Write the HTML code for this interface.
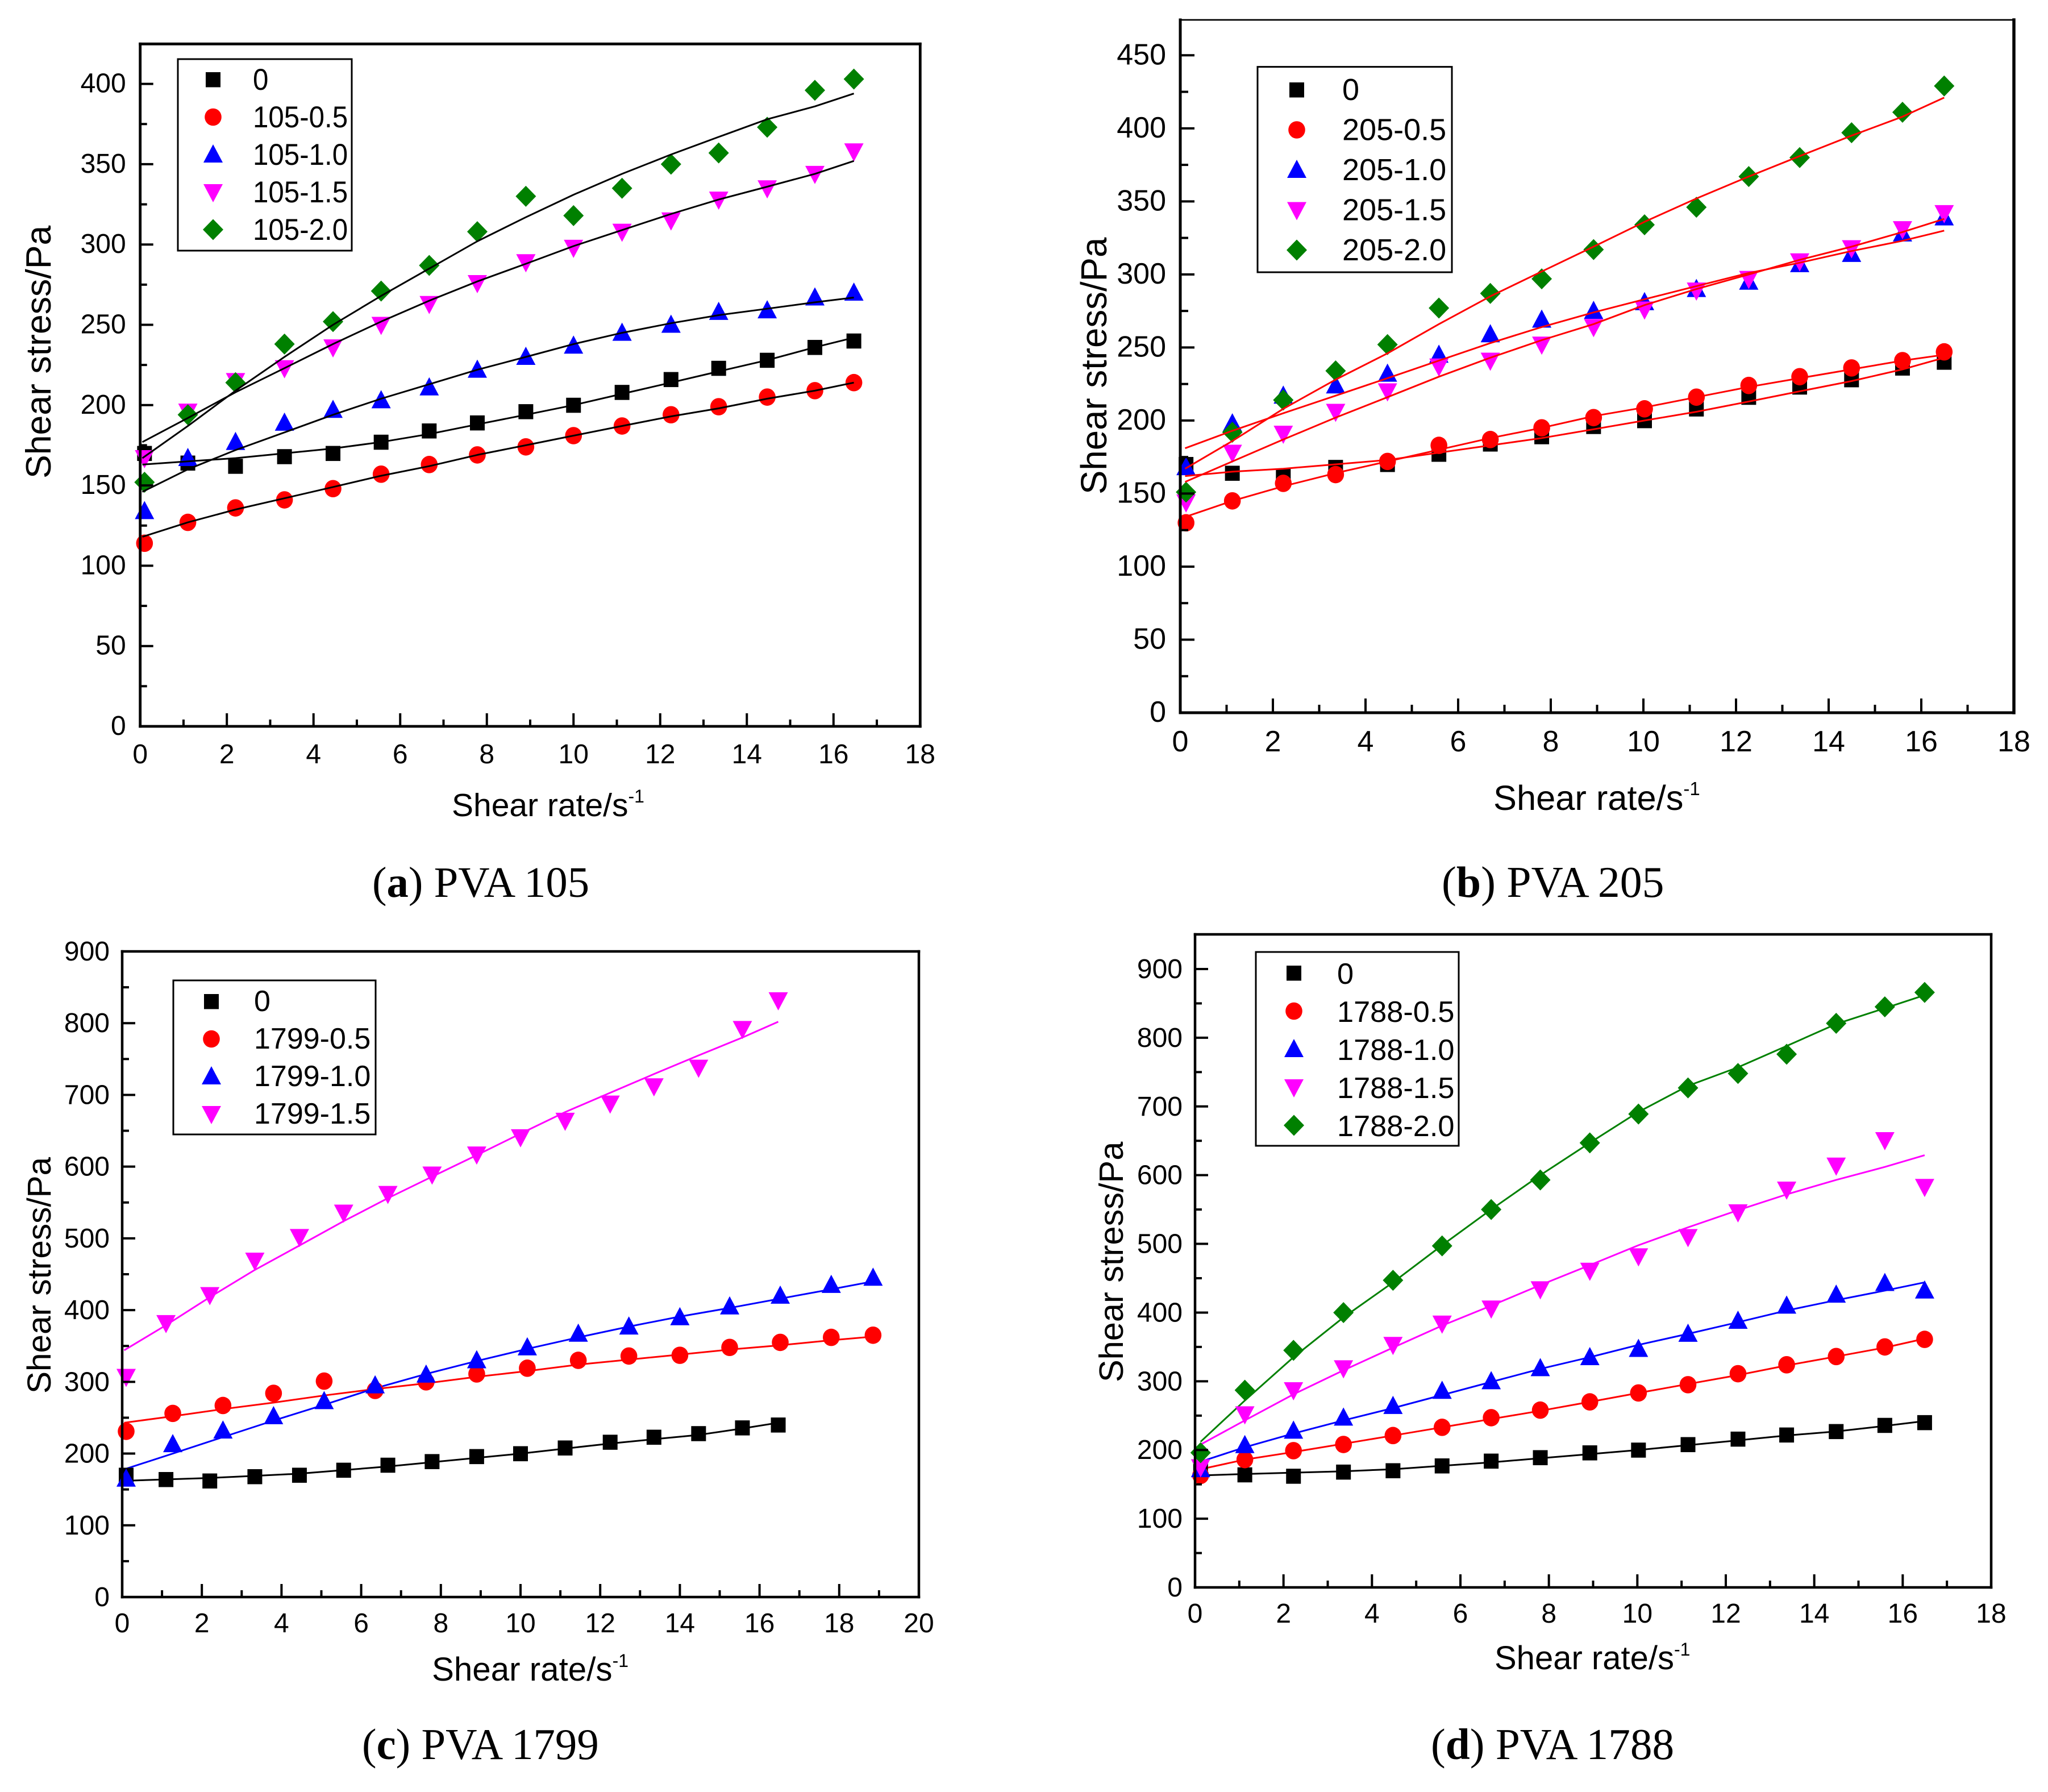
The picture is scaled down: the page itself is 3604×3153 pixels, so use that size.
<!DOCTYPE html>
<html lang="en">
<head>
<meta charset="utf-8">
<title>Shear stress vs shear rate for PVA solutions</title>
<style>
html,body{margin:0;padding:0;background:#fff;}
svg{display:block;position:absolute;left:0;top:0;}
.sans{font-family:"Liberation Sans",Arial,sans-serif;fill:#000;}
.serif{font-family:"Liberation Serif","Times New Roman",serif;fill:#000;}
</style>
</head>
<body>
<svg id="fig" xmlns="http://www.w3.org/2000/svg" width="3604" height="3153" viewBox="0 0 3604 3153">
  <rect width="3604" height="3153" fill="#fff"/>

  <g id="chart-a"></g>
  <g id="chart-b"></g>
  <g id="chart-c"></g>
  <g id="chart-d"></g>

  <text class="sans" font-size="62.6" transform="translate(89,842) rotate(-90)">Shear stress/Pa</text>
  <text class="sans" x="795" y="1436" font-size="57">Shear rate/s<tspan font-size="32" dy="-24">-1</tspan></text>
  <text class="serif" x="655" y="1578" font-size="76.7">(<tspan font-weight="bold">a</tspan>) PVA 105</text>

  <text class="sans" font-size="63.6" transform="translate(1947,870) rotate(-90)">Shear stress/Pa</text>
  <text class="sans" x="2628" y="1425" font-size="61.4">Shear rate/s<tspan font-size="33" dy="-26">-1</tspan></text>
  <text class="serif" x="2537" y="1578" font-size="77.7">(<tspan font-weight="bold">b</tspan>) PVA 205</text>

  <text class="sans" font-size="58.5" transform="translate(89,2452) rotate(-90)">Shear stress/Pa</text>
  <text class="sans" x="760" y="2957" font-size="58.3">Shear rate/s<tspan font-size="32" dy="-24">-1</tspan></text>
  <text class="serif" x="637" y="3095" font-size="76.8">(<tspan font-weight="bold">c</tspan>) PVA 1799</text>

  <text class="sans" font-size="59.5" transform="translate(1976,2432) rotate(-90)">Shear stress/Pa</text>
  <text class="sans" x="2630" y="2937" font-size="58">Shear rate/s<tspan font-size="32" dy="-24">-1</tspan></text>
  <text class="serif" x="2518" y="3095" font-size="77.3">(<tspan font-weight="bold">d</tspan>) PVA 1788</text>
</svg>
<script>
/* ---------- shared x values (shear rate, 1/s) ---------- */
var shearRates = [0.1,1.1,2.2,3.33,4.45,5.56,6.67,7.78,8.9,10,11.12,12.25,13.35,14.47,15.57,16.47];
var shearRatesLong = [0.1,1.27,2.53,3.8,5.07,6.35,7.63,8.9,10.17,11.45,12.72,14,15.25,16.52,17.8,18.85];

/* ---------- tick labels ---------- */
var xTicks18 = [0,2,4,6,8,10,12,14,16,18];
var xTicks20 = [0,2,4,6,8,10,12,14,16,18,20];
var yTicksA = [0,50,100,150,200,250,300,350,400];
var yTicksB = [0,50,100,150,200,250,300,350,400,450];
var yTicksC = [0,100,200,300,400,500,600,700,800,900];
var yTicksD = [0,100,200,300,400,500,600,700,800,900];

/* ---------- legend names ---------- */
var namesA = ["0","105-0.5","105-1.0","105-1.5","105-2.0"];
var namesB = ["0","205-0.5","205-1.0","205-1.5","205-2.0"];
var namesC = ["0","1799-0.5","1799-1.0","1799-1.5"];
var namesD = ["0","1788-0.5","1788-1.0","1788-1.5","1788-2.0"];

/* ---------- chart (a) PVA 105: measured points ---------- */
var a0   = [170,164,162,168,170,177,184,189,196,200,208,216,223,228,236,240];
var a05  = [114,127,136,141,148,157,163,169,174,181,187,194,199,205,209,214];
var a10  = [134,167,177,189,197,203,211,222,230,237,245,250,258,259,267,270];
var a15  = [167,196,215,223,236,250,263,276,289,298,308,315,328,335,344,358];
var a20  = [152,194,214,238,252,271,287,308,330,318,335,350,357,373,396,403];
/* chart (a): fitted curves */
var aFit0  = [163,165,167,170,173,177,182,188,194,200,207,214,221,228,236,242];
var aFit05 = [118,127,135,142,149,156,162,169,175,181,187,193,198,204,209,214];
var aFit10 = [146,160,172,183,194,204,213,222,230,238,245,251,256,260,264,267];
var aFit15 = [177,192,208,223,238,252,265,277,288,299,309,319,328,336,344,352];
var aFit20 = [167,187,209,230,250,268,285,302,317,331,344,356,367,378,386,394];

/* ---------- chart (b) PVA 205: measured points ---------- */
var b0   = [170,164,162,168,170,177,184,189,196,200,208,216,223,228,236,240];
var b05  = [130,145,157,163,172,183,187,195,202,208,216,224,230,236,241,247];
var b10  = [168,198,217,224,232,245,259,269,275,281,290,295,307,314,328,339];
var b15  = [144,178,191,206,220,237,241,252,264,276,289,297,309,318,331,342];
var b20  = [151,192,214,234,252,277,287,297,317,334,346,367,380,397,411,429];
/* chart (b): fitted curves */
var bFit0  = [162,165,167,170,173,178,183,188,194,200,206,213,220,227,235,243];
var bFit05 = [134,145,155,164,172,180,188,195,203,209,216,223,229,235,241,245];
var bFit10 = [181,193,205,217,229,241,253,264,274,283,292,301,308,316,323,330];
var bFit15 = [158,172,187,202,216,230,243,255,266,279,290,300,310,319,329,338];
var bFit20 = [167,186,208,228,246,266,285,302,319,336,352,367,381,395,408,421];

/* ---------- chart (c) PVA 1799: measured points ---------- */
var c0   = [170,164,162,168,170,177,184,189,196,200,208,216,223,228,236,240];
var c05  = [231,256,267,284,301,288,300,311,319,330,336,337,348,355,362,365];
var c10  = [165,213,232,252,273,295,310,330,348,367,377,390,405,420,435,445];
var c15  = [307,382,421,469,502,536,562,589,617,641,664,688,712,738,792,832];
/* chart (c): fitted curves */
var cFit0  = [162,164,166,169,172,177,182,188,194,200,207,214,220,226,235,243];
var cFit05 = [243,252,262,271,281,290,298,307,315,324,331,338,345,351,358,363];
var cFit10 = [178,200,223,246,268,291,311,329,346,362,377,391,403,416,429,440];
var cFit15 = [344,379,418,456,490,524,556,586,616,646,676,703,729,755,780,802];

/* ---------- chart (d) PVA 1788: measured points ---------- */
var d0   = [170,164,162,168,170,177,184,189,196,200,208,216,222,227,236,240];
var d05  = [163,186,199,208,221,233,247,258,270,283,295,311,324,336,350,361];
var d10  = [172,207,228,247,264,286,300,319,335,347,369,388,410,426,443,432];
var d15  = [175,252,287,319,353,384,406,434,461,482,510,546,579,614,651,583];
var d20  = [196,287,345,400,447,497,550,593,647,689,727,748,776,821,845,866];
/* chart (d): fitted curves */
var dFit0  = [163,165,167,169,172,177,182,188,194,200,207,214,221,227,235,242];
var dFit05 = [172,186,197,209,221,233,245,257,270,283,296,309,323,336,349,362];
var dFit10 = [183,204,224,243,261,280,299,318,335,353,369,386,403,418,432,444];
var dFit15 = [208,243,281,316,349,381,410,440,469,498,524,549,572,593,612,629];
var dFit20 = [212,272,335,393,444,498,550,600,647,692,730,757,788,820,843,862];

var SVGNS = "http://www.w3.org/2000/svg";
var STYLE = [
  {color:"#000000", shape:"square",   key:"0"},
  {color:"#ff0000", shape:"circle",   key:"0-5"},
  {color:"#0000ff", shape:"triangle", key:"1-0"},
  {color:"#ff00ff", shape:"inverted", key:"1-5"},
  {color:"#008000", shape:"diamond",  key:"2-0"}
];

function make(tag, attrs, parent){
  var el = document.createElementNS(SVGNS, tag);
  for (var k in attrs) el.setAttribute(k, attrs[k]);
  parent.appendChild(el);
  return el;
}

function drawMarker(shape, cx, cy, color, parent){
  var el;
  if (shape === "square") {
    el = make("rect", {x:cx-13, y:cy-13, width:26, height:26.5, fill:color}, parent);
  } else if (shape === "circle") {
    el = make("ellipse", {cx:cx, cy:cy, rx:14.8, ry:15.3, fill:color}, parent);
  } else if (shape === "triangle") {
    el = make("polygon", {points:(cx)+","+(cy-18)+" "+(cx+17)+","+(cy+14)+" "+(cx-17)+","+(cy+14), fill:color}, parent);
  } else if (shape === "inverted") {
    el = make("polygon", {points:(cx)+","+(cy+18)+" "+(cx+17)+","+(cy-14)+" "+(cx-17)+","+(cy-14), fill:color}, parent);
  } else {
    el = make("polygon", {points:(cx)+","+(cy-18.5)+" "+(cx+18)+","+(cy)+" "+(cx)+","+(cy+18.5)+" "+(cx-18)+","+(cy), fill:color}, parent);
  }
  return el;
}

function drawChart(cfg){
  var g = document.getElementById(cfg.id);
  function sx(v){ return cfg.left + v / cfg.xMax * (cfg.right - cfg.left); }
  function sy(v){ return cfg.bottom - v / cfg.yRefValue * (cfg.bottom - cfg.yRefPixel); }

  function drawPoints(){
    cfg.points.forEach(function(vals, i){
      var st = STYLE[i];
      var xs = cfg.xSets[i];
      var grp = make("g", {}, g);
      
      
      vals.forEach(function(v, j){
        var m = drawMarker(st.shape, sx(xs[j]) + cfg.markDx, sy(v), st.color, grp);
        
        
      });
    });
  }

  function drawFits(){
    cfg.fits.forEach(function(vals, i){
      var xs = cfg.xSets[i];
      var d = vals.map(function(v, j){
        var xv = j === 0 ? cfg.fitStart : xs[j];
        return (j ? "L" : "M") + (sx(xv) + cfg.markDx).toFixed(1) + " " + sy(v).toFixed(1);
      }).join(" ");
      var p = make("path", {d:d, fill:"none", stroke:cfg.lineColors[i], "stroke-width":3, "stroke-linejoin":"round"}, g);
      
      
    });
  }

  if (cfg.linesOnTop) { drawPoints(); drawFits(); } else { drawFits(); drawPoints(); }

  /* plot frame */
  var edges = [
    [cfg.left, cfg.bottom, cfg.right, cfg.bottom, cfg.frameWidth, 'x-axis-line'],
    [cfg.left, cfg.top, cfg.left, cfg.bottom, cfg.frameWidth, 'y-axis-line'],
    [cfg.left, cfg.top, cfg.right, cfg.top, cfg.topWidth, 'top-frame-line'],
    [cfg.right, cfg.top, cfg.right, cfg.bottom, cfg.rightWidth, 'right-frame-line']
  ];
  edges.forEach(function(e){
    var l = make("line", {x1:e[0], y1:e[1], x2:e[2], y2:e[3], stroke:"#000", "stroke-width":e[4], "stroke-linecap":"square"}, g);
    
    
  });

  /* x ticks */
  cfg.xTicks.forEach(function(v, i){
    var x = sx(v);
    if (v !== 0 && v !== cfg.xMax) {
      var t = make("line", {x1:x, x2:x, y1:cfg.bottom, y2:cfg.bottom-cfg.majorLen, stroke:"#000", "stroke-width":4}, g);
      
      
    }
    if (i < cfg.xTicks.length-1) {
      var mx = sx((v + cfg.xTicks[i+1]) / 2);
      var mt = make("line", {x1:mx, x2:mx, y1:cfg.bottom, y2:cfg.bottom-cfg.minorLen, stroke:"#000", "stroke-width":4}, g);
      
      
    }
    var lab = make("text", {x:x, y:cfg.xLabelY, "text-anchor":"middle", "font-size":cfg.tickSize, "class":"sans"}, g);
    lab.textContent = String(v);
    
    
  });

  /* y ticks */
  cfg.yTicks.forEach(function(v, i){
    var y = sy(v);
    if (v !== 0) {
      var t = make("line", {x1:cfg.left, x2:cfg.left+cfg.majorLen, y1:y, y2:y, stroke:"#000", "stroke-width":4}, g);
      
      
    }
    var nextV = i < cfg.yTicks.length-1 ? cfg.yTicks[i+1] : v + (v - cfg.yTicks[i-1]);
    var midV = (v + nextV) / 2;
    if (sy(midV) > cfg.top + 4) {
      var my = sy(midV);
      var mt = make("line", {x1:cfg.left, x2:cfg.left+cfg.minorLen, y1:my, y2:my, stroke:"#000", "stroke-width":4}, g);
      
      
    }
    var lab = make("text", {x:cfg.left-cfg.yLabelGap, y:y+cfg.yLabelDy, "text-anchor":"end", "font-size":cfg.tickSize, "class":"sans"}, g);
    lab.textContent = String(v);
    
    
  });

  /* legend */
  var lg = make("g", {}, g);
  
  
  var box = make("rect", {x:cfg.legend.x0, y:cfg.legend.y0, width:cfg.legend.x1-cfg.legend.x0, height:cfg.legend.y1-cfg.legend.y0, fill:"#fff", stroke:"#000", "stroke-width":3}, lg);
  
  
  cfg.names.forEach(function(name, i){
    var rowY = cfg.legend.firstRow + i * cfg.legend.rowStep;
    var m = drawMarker(STYLE[i].shape, cfg.legend.markerX, rowY, STYLE[i].color, lg);
    
    
    var t = make("text", {x:cfg.legend.textX, y:rowY+cfg.legend.textDy, "font-size":cfg.legend.fontSize, "class":"sans"}, lg);
    t.textContent = name;
    if (cfg.legend.squeeze !== 1) {
      t.setAttribute("transform", "translate(" + cfg.legend.textX + " 0) scale(" + cfg.legend.squeeze + " 1) translate(" + (-cfg.legend.textX) + " 0)");
    }
    
    
  });
}

drawChart({
  id:"chart-a", left:246.7, right:1619.3, top:77.3, bottom:1278,
  xMax:18, yRefValue:400, yRefPixel:147.6,
  xTicks:xTicks18, yTicks:yTicksA, xLabelY:1343, yLabelGap:25, yLabelDy:15,
  tickSize:48, majorLen:23, minorLen:12,
  frameWidth:4.8, topWidth:4.8, rightWidth:4.8, linesOnTop:true, fitStart:0.05, markDx:0,
  xSets:[shearRates,shearRates,shearRates,shearRates,shearRates],
  points:[a0,a05,a10,a15,a20], fits:[aFit0,aFit05,aFit10,aFit15,aFit20],
  lineColors:["#000","#000","#000","#000","#000"],
  names:namesA,
  legend:{x0:313,y0:104,x1:619,y1:441,markerX:375,textX:445,firstRow:140,rowStep:66,textDy:18,fontSize:53,squeeze:0.93}
});
drawChart({
  id:"chart-b", left:2077, right:3544, top:35, bottom:1254,
  xMax:18, yRefValue:450, yRefPixel:97.3,
  xTicks:xTicks18, yTicks:yTicksB, xLabelY:1322, yLabelGap:25, yLabelDy:16,
  tickSize:52, majorLen:25, minorLen:14,
  frameWidth:5, topWidth:2.8, rightWidth:5.5, linesOnTop:true, fitStart:0.08, markDx:2,
  xSets:[shearRates,shearRates,shearRates,shearRates,shearRates],
  points:[b0,b05,b10,b15,b20], fits:[bFit0,bFit05,bFit10,bFit15,bFit20],
  lineColors:["#f00","#f00","#f00","#f00","#f00"],
  names:namesB,
  legend:{x0:2213,y0:117.6,x1:2555,y1:479,markerX:2282,textX:2362,firstRow:158,rowStep:70.5,textDy:18,fontSize:54,squeeze:1}
});
drawChart({
  id:"chart-c", left:215, right:1617, top:1674, bottom:2810,
  xMax:20, yRefValue:900, yRefPixel:1674,
  xTicks:xTicks20, yTicks:yTicksC, xLabelY:2872, yLabelGap:22, yLabelDy:16,
  tickSize:48, majorLen:23, minorLen:12,
  frameWidth:4.5, topWidth:4.5, rightWidth:4.5, linesOnTop:false, fitStart:0.05, markDx:0,
  xSets:[shearRates,shearRatesLong,shearRatesLong,shearRates],
  points:[c0,c05,c10,c15], fits:[cFit0,cFit05,cFit10,cFit15],
  lineColors:["#000","#f00","#00f","#f0f"],
  names:namesC,
  legend:{x0:305,y0:1725,x1:661,y1:1996,markerX:372,textX:447,firstRow:1762,rowStep:66,textDy:17,fontSize:52,squeeze:1}
});
drawChart({
  id:"chart-d", left:2103, right:3504, top:1644, bottom:2793,
  xMax:18, yRefValue:900, yRefPixel:1705,
  xTicks:xTicks18, yTicks:yTicksD, xLabelY:2855, yLabelGap:22, yLabelDy:16,
  tickSize:48, majorLen:23, minorLen:12,
  frameWidth:4.5, topWidth:4.5, rightWidth:4.5, linesOnTop:false, fitStart:0.1, markDx:2,
  xSets:[shearRates,shearRates,shearRates,shearRates,shearRates],
  points:[d0,d05,d10,d15,d20], fits:[dFit0,dFit05,dFit10,dFit15,dFit20],
  lineColors:["#000","#f00","#00f","#f0f","#008000"],
  names:namesD,
  legend:{x0:2210,y0:1675,x1:2567,y1:2016,markerX:2277,textX:2353,firstRow:1712,rowStep:67,textDy:19,fontSize:52.3,squeeze:1}
});
</script>
</body>
</html>
